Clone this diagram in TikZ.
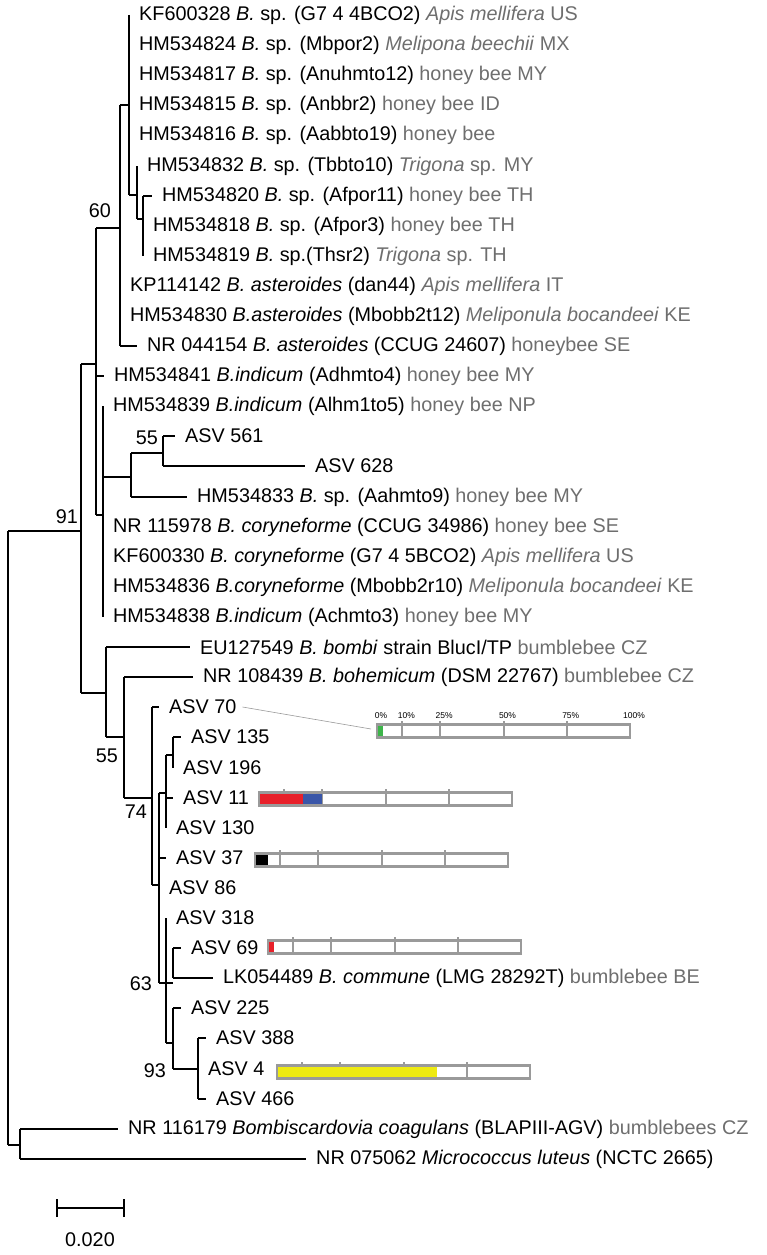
\documentclass[tikz,border=0pt]{standalone}
\usepackage{fontspec}
\setmainfont{Liberation Sans}
\definecolor{hostgray}{HTML}{6E6E6E}
\definecolor{bargray}{HTML}{9A9A9A}
\definecolor{bred}{HTML}{E8202A}
\definecolor{bblue}{HTML}{3A56A8}
\definecolor{bgreen}{HTML}{3DB54A}
\definecolor{byellow}{HTML}{EEEA12}
\newcommand\hst[1]{\textcolor{hostgray}{#1}}
\newcommand\leaf[5]{\node[lf] (#1) at (#3+10,#4) {#5};\draw[br] (#2,#4) -- ([xshift=-10pt]#1.west);}
\newcommand\vb[3]{\draw[br] (#1,#2) -- (#1,#3);}
\newcommand\hb[3]{\draw[br] (#1,#3) -- (#2,#3);}
\newcommand\pbar[2]{%
  \foreach \p in {10,25,50,75} \draw[bargray,line width=2pt] (#1+2.53*\p,#2-10) -- (#1+2.53*\p,#2+6);}
\newcommand\pbox[2]{\draw[bargray,line width=2.2pt] (#1,#2-6.5) rectangle (#1+253,#2+6.5);}
\begin{document}
\begin{tikzpicture}[x=1pt,y=-1pt,
  lf/.style={anchor=west,inner sep=0pt,font=\fontsize{19.8}{22}\selectfont},
  bs/.style={inner sep=0pt,font=\fontsize{19.8}{22}\selectfont},
  br/.style={line width=2.2pt,black}]
\useasboundingbox (0,0) rectangle (767,1255);
% top clade
\vb{129}{15}{195}
\leaf{l0}{129}{129}{15}{KF600328 \textit{B.} sp. (G7 4 4BCO2) \hst{\textit{Apis mellifera} US}}
\leaf{l1}{129}{129}{45}{HM534824 \textit{B.} sp. (Mbpor2) \hst{\textit{Melipona beechii} MX}}
\leaf{l2}{129}{129}{75}{HM534817 \textit{B.} sp. (Anuhmto12) \hst{honey bee MY}}
\leaf{l3}{129}{129}{105}{HM534815 \textit{B.} sp. (Anbbr2) \hst{honey bee ID}}
\leaf{l4}{129}{129}{135}{HM534816 \textit{B.} sp. (Aabbto19) \hst{honey bee}}
\hb{129}{137}{195}
\vb{137}{166}{219}
\leaf{l5}{137}{137}{166}{HM534832 \textit{B.} sp. (Tbbto10) \hst{\textit{Trigona} sp. MY}}
\hb{137}{143}{219}
\vb{143}{196}{256}
\leaf{l6}{143}{152}{196}{HM534820 \textit{B.} sp. (Afpor11) \hst{honey bee TH}}
\leaf{l7}{143}{143}{226}{HM534818 \textit{B.} sp. (Afpor3) \hst{honey bee TH}}
\leaf{l8}{143}{143}{256}{HM534819 \textit{B.} sp.(Thsr2) \hst{\textit{Trigona} sp. TH}}
\vb{120}{105}{346}
\hb{120}{129}{105}
\leaf{l9}{120}{120}{286}{KP114142 \textit{B. asteroides} (dan44) \hst{\textit{Apis mellifera} IT}}
\leaf{l10}{120}{120}{316}{HM534830 \textit{B.asteroides} (Mbobb2t12) \hst{\textit{Meliponula bocandeei} KE}}
\leaf{l11}{120}{137}{346}{NR 044154 \textit{B. asteroides} (CCUG 24607) \hst{honeybee SE}}
\node[bs] (b60) at (100,211) {60};
% E
\vb{96}{228}{515}
\hb{96}{120}{228}
\leaf{l12}{96}{104}{376}{HM534841 \textit{B.indicum} (Adhmto4) \hst{honey bee MY}}
\hb{96}{103}{515}
\vb{103}{406}{617}
\leaf{l13}{103}{103}{406}{HM534839 \textit{B.indicum} (Alhm1to5) \hst{honey bee NP}}
\hb{103}{131}{477}
\vb{131}{453}{497}
\hb{131}{163}{453}
\vb{163}{436}{466}
\leaf{l14}{163}{175}{436}{ASV 561}
\leaf{l15}{163}{305}{466}{ASV 628}
\leaf{l16}{131}{187}{497}{HM534833 \textit{B.} sp. (Aahmto9) \hst{honey bee MY}}
\node[bs] (b55a) at (147,438) {55};
\leaf{l17}{103}{103}{527}{NR 115978 \textit{B. coryneforme} (CCUG 34986) \hst{honey bee SE}}
\leaf{l18}{103}{103}{557}{KF600330 \textit{B. coryneforme} (G7 4 5BCO2) \hst{\textit{Apis mellifera} US}}
\leaf{l19}{103}{103}{587}{HM534836 \textit{B.coryneforme} (Mbobb2r10) \hst{\textit{Meliponula bocandeei} KE}}
\leaf{l20}{103}{103}{617}{HM534838 \textit{B.indicum} (Achmto3) \hst{honey bee MY}}
% I
\vb{81}{364}{693}
\hb{81}{96}{364}
\node[bs] (b91) at (67,517) {91};
% root
\vb{8}{531}{1145}
\hb{8}{81}{531}
\hb{8}{20}{1145}
\vb{20}{1129}{1159}
\leaf{l37}{20}{118}{1129}{NR 116179 \textit{Bombiscardovia coagulans} (BLAPIII-AGV) \hst{bumblebees CZ}}
\leaf{l38}{20}{306}{1159}{NR 075062 \textit{Micrococcus luteus} (NCTC 2665)}
% L
\hb{81}{106}{693}
\vb{106}{647}{737}
\leaf{l21}{106}{190}{647}{EU127549 \textit{B. bombi} strain BlucI/TP \hst{bumblebee CZ}}
\hb{106}{124}{737}
\node[bs] (b55b) at (107,756) {55};
\vb{124}{677}{798}
\leaf{l22}{124}{193}{677}{NR 108439 \textit{B. bohemicum} (DSM 22767) \hst{bumblebee CZ}}
\hb{124}{152}{798}
\node[bs] (b74) at (136,812) {74};
\vb{152}{707}{885}
\leaf{l23}{152}{159}{707}{ASV 70}
\hb{152}{159}{885}
\vb{159}{793}{983}
\hb{159}{166}{793}
\vb{166}{755}{828}
\hb{166}{173}{755}
\vb{173}{737}{768}
\leaf{l24}{173}{181}{737}{ASV 135}
\leaf{l25}{173}{173}{768}{ASV 196}
\leaf{l26}{166}{173}{798}{ASV 11}
\leaf{l27}{166}{166}{828}{ASV 130}
\leaf{l28}{159}{166}{858}{ASV 37}
\leaf{l29}{159}{159}{888}{ASV 86}
\hb{159}{166}{983}
\node[bs] (b63) at (141,984) {63};
\vb{166}{918}{1043}
\leaf{l30}{166}{166}{918}{ASV 318}
\hb{166}{173}{983}
\vb{173}{948}{978}
\leaf{l31}{173}{181}{948}{ASV 69}
\leaf{l32}{173}{213}{978}{LK054489 \textit{B. commune} (LMG 28292T) \hst{bumblebee BE}}
\hb{166}{173}{1043}
\vb{173}{1008}{1069}
\leaf{l33}{173}{181}{1008}{ASV 225}
\hb{173}{198}{1069}
\node[bs] (b93) at (155,1071) {93};
\vb{198}{1038}{1099}
\leaf{l34}{198}{206}{1038}{ASV 388}
\leaf{l35}{198}{198}{1069}{ASV 4}
\leaf{l36}{198}{206}{1099}{ASV 466}
% bars
\draw[bargray,line width=0.6pt] ([xshift=6pt]l23.east) -- (371,729);
\pbar{377}{731}
\fill[bgreen] (378,725) rectangle (383,737);
\pbox{377}{731}
\foreach \p/\t in {0/0\%,10/10\%,25/25\%,50/50\%,75/75\%,100/100\%}
  \node[font=\fontsize{8.5}{9}\selectfont,inner sep=0pt] (pc\p) at (377+2.53*\p+4,716) {\t};
\pbar{259}{799}
\fill[bred] (260,793) rectangle (303,805);
\fill[bblue] (303,793) rectangle (322,805);
\pbox{259}{799}
\pbar{255}{860}
\fill[black] (256,854) rectangle (268,866);
\pbox{255}{860}
\pbar{268}{947}
\fill[bred] (269,941) rectangle (274,953);
\pbox{268}{947}
\pbar{277}{1072}
\fill[byellow] (278,1066) rectangle (437,1078);
\pbox{277}{1072}
% scale
\coordinate (s1) at (57,1208);
\coordinate (s2) at (124,1208);
\draw[br] (s1) -- (s2);
\draw[br] ([yshift=-9pt]s1) -- ([yshift=9pt]s1);
\draw[br] ([yshift=-9pt]s2) -- ([yshift=9pt]s2);
\node[bs] (sl) at (90,1240) {0.020};
\end{tikzpicture}
\end{document}
